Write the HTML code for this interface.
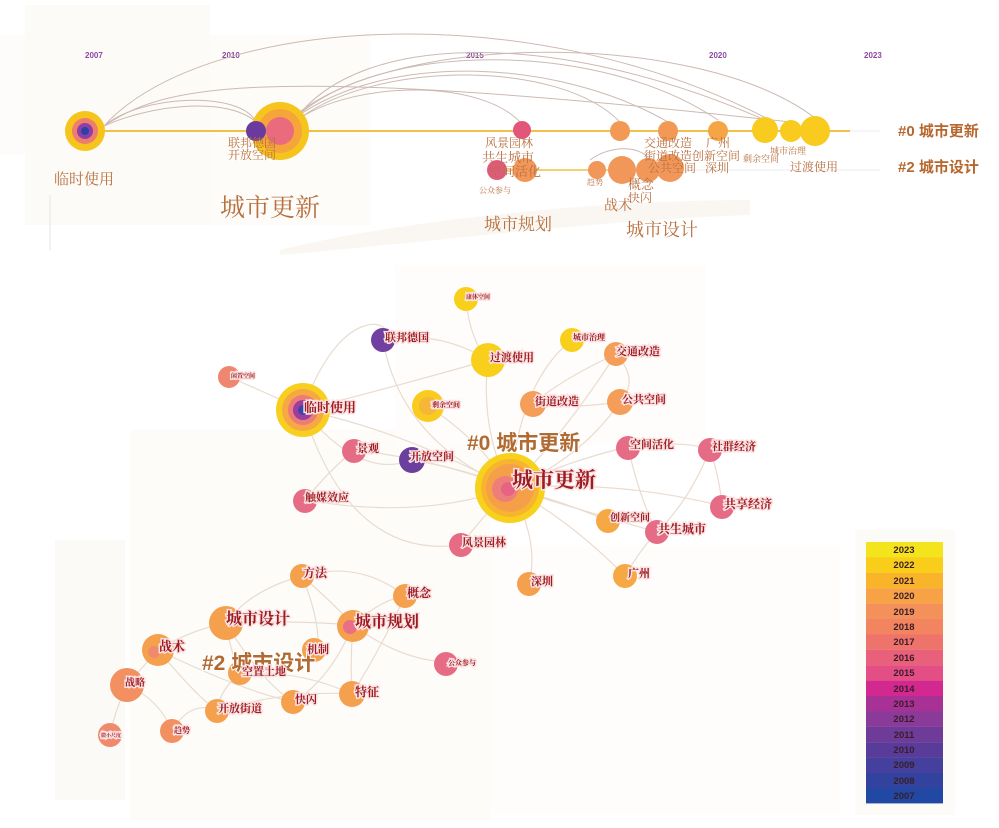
<!DOCTYPE html>
<html><head><meta charset="utf-8"><style>
html,body{margin:0;padding:0;background:#fff;}
svg{display:block;font-family:"Liberation Serif","Noto Serif CJK SC","Noto Sans CJK SC",serif;}
.l{fill:#9e1b22;stroke:#fbe3e3;stroke-width:3;paint-order:stroke;font-weight:bold;}
.t{fill:#b8703f;}
.e{fill:none;stroke:#e9dccf;stroke-width:1.2;}
.a{fill:none;stroke:#cdb9b2;stroke-width:1;}
.yr{fill:#8a4aa0;font-family:"Liberation Sans",sans-serif;font-size:8px;font-weight:bold;}
.lg{font-family:"Liberation Sans",sans-serif;font-size:9.5px;font-weight:bold;fill:#3a1d2a;}
</style></head><body>
<svg width="999" height="828" viewBox="0 0 999 828">
<!-- faint background panels -->
<rect x="25" y="5" width="185" height="220" fill="#fdfbf7"/>
<rect x="210" y="35" width="160" height="190" fill="#fdfcf9"/>
<rect x="0" y="35" width="25" height="120" fill="#fdfcfa"/>
<rect x="130" y="430" width="360" height="390" fill="#fdfcf9"/>
<rect x="55" y="540" width="70" height="260" fill="#fcfaf6"/>
<rect x="490" y="545" width="350" height="270" fill="#fefdfb"/>
<rect x="395" y="265" width="310" height="180" fill="#fefdfb"/>
<rect x="855" y="530" width="100" height="285" fill="#fcfbf7"/>
<path d="M280 250 C400 220 600 200 750 200 L750 215 C600 220 450 240 280 255Z" fill="#faf7f2"/>
<line x1="50" y1="195" x2="50" y2="250" stroke="#e6e6e6"/>

<!-- ===== TIMELINE ===== -->
<text class="yr" x="85" y="58">2007</text>
<text class="yr" x="222" y="58">2010</text>
<text class="yr" x="466" y="58">2015</text>
<text class="yr" x="709" y="58">2020</text>
<text class="yr" x="864" y="58">2023</text>
<!-- arcs -->
<path class="a" d="M104 126 C200 20 520 -10 770 120"/>
<path class="a" d="M104 126 C160 90 230 60 790 122"/>
<path class="a" d="M104 126 C140 95 240 90 256 122"/>
<path class="a" d="M104 126 C150 105 230 95 258 124"/>
<path class="a" d="M295 120 C360 30 560 30 765 120"/>
<path class="a" d="M295 118 C380 40 600 40 718 120"/>
<path class="a" d="M295 118 C390 50 560 60 668 122"/>
<path class="a" d="M300 118 C380 60 560 60 620 122"/>
<path class="a" d="M300 118 C360 80 480 80 520 122"/>
<path class="a" d="M290 120 C390 30 700 30 815 118"/>
<path class="a" d="M590 160 C610 145 640 145 650 160"/>
<line x1="85" y1="131" x2="850" y2="131" stroke="#f2c048" stroke-width="2"/>
<line x1="850" y1="131" x2="880" y2="131" stroke="#eee" stroke-width="1"/>
<line x1="496" y1="170" x2="680" y2="170" stroke="#f3d070" stroke-width="2"/>
<line x1="680" y1="170" x2="880" y2="170" stroke="#eee" stroke-width="1"/>
<!-- timeline nodes -->
<circle cx="85" cy="131" r="20" fill="#f6c51d"/><circle cx="85" cy="131" r="13" fill="#ef7d6c"/><circle cx="85" cy="131" r="8" fill="#8b3fa8"/><circle cx="85" cy="131" r="4" fill="#2f3fa5"/>
<circle cx="280" cy="131" r="29" fill="#f6c51d"/><circle cx="280" cy="131" r="22" fill="#f6a53a"/><circle cx="280" cy="131" r="14" fill="#ea6a7e"/>
<circle cx="256" cy="131" r="10" fill="#6b3a9e"/>
<circle cx="522" cy="130" r="9" fill="#e2567a"/>
<circle cx="620" cy="131" r="10" fill="#f29a55"/>
<circle cx="668" cy="131" r="10" fill="#f29a55"/>
<circle cx="718" cy="131" r="10" fill="#f5a544"/>
<circle cx="765" cy="130" r="13" fill="#f8cb1e"/>
<circle cx="791" cy="131" r="11" fill="#f8cb1e"/>
<circle cx="815" cy="131" r="15" fill="#f8cb1e"/>
<circle cx="497" cy="170" r="10" fill="#e05a7e"/>
<circle cx="525" cy="170" r="12" fill="#f2975a"/>
<circle cx="597" cy="170" r="9" fill="#f2975a"/>
<circle cx="622" cy="170" r="14" fill="#f2975a"/>
<circle cx="648" cy="170" r="12" fill="#f2975a"/>
<circle cx="670" cy="168" r="14" fill="#f2975a"/>
<!-- timeline labels -->
<g class="t" font-size="12">
<text x="228" y="147">联邦德国</text><text x="228" y="159">开放空间</text>
<text x="485" y="147">风景园林</text><text x="482" y="162" font-size="13">共生城市</text><text x="489" y="176" font-size="13">空间活化</text>
<text x="479" y="193" font-size="8">公众参与</text>
<text x="644" y="147">交通改造</text><text x="644" y="160">街道改造创新空间</text><text x="648" y="172">公共空间</text>
<text x="706" y="147">广州</text><text x="705" y="172">深圳</text>
<text x="743" y="162" font-size="9">剩余空间</text><text x="770" y="154" font-size="9">城市治理</text>
<text x="790" y="171">过渡使用</text>
<text x="587" y="185" font-size="8">趋势</text>
<text x="628" y="189" font-size="13">概念</text><text x="628" y="202" font-size="12">快闪</text>
<text x="604" y="210" font-size="14">战术</text>
</g>
<g class="t">
<text x="54" y="184" font-size="15">临时使用</text>
<text x="220" y="216" font-size="25">城市更新</text>
<text x="484" y="230" font-size="17">城市规划</text>
<text x="626" y="236" font-size="18">城市设计</text>
</g>
<g fill="#b5672e" font-family="Liberation Sans,'Noto Sans CJK SC',sans-serif" font-weight="bold" font-size="15">
<text x="898" y="136">#0 城市更新</text>
<text x="898" y="172">#2 城市设计</text>
</g>

<!-- ===== NETWORK EDGES ===== -->
<g class="e">
<path d="M303 410 C340 300 400 320 383 340"/>
<path d="M303 410 Q400 430 510 488"/>
<path d="M303 410 Q420 380 488 360"/>
<path d="M303 410 Q360 480 412 460"/>
<path d="M303 410 Q350 560 461 545"/>
<path d="M383 340 Q400 440 510 488"/>
<path d="M383 340 Q440 330 488 360"/>
<path d="M466 300 Q470 340 488 360"/>
<path d="M488 360 Q480 430 510 488"/>
<path d="M572 340 Q520 380 510 488"/>
<path d="M616 354 Q560 380 533 404"/>
<path d="M616 354 Q560 440 510 488"/>
<path d="M616 354 Q640 380 620 402"/>
<path d="M620 402 Q560 410 533 404"/>
<path d="M620 402 Q580 460 510 488"/>
<path d="M428 406 Q480 440 510 488"/>
<path d="M354 450 Q440 460 510 488"/>
<path d="M305 500 Q420 520 510 488"/>
<path d="M305 500 Q330 470 354 450"/>
<path d="M412 460 Q470 470 510 488"/>
<path d="M628 447 Q570 460 510 488"/>
<path d="M628 447 Q680 440 710 449"/>
<path d="M710 449 Q690 500 657 532"/>
<path d="M710 449 Q720 480 722 506"/>
<path d="M722 506 Q620 480 510 488"/>
<path d="M628 447 Q640 500 657 532"/>
<path d="M608 521 Q560 500 510 488"/>
<path d="M657 532 Q580 510 510 488"/>
<path d="M461 545 Q480 520 510 488"/>
<path d="M529 584 Q540 540 510 488"/>
<path d="M625 576 Q570 520 510 488"/>
<path d="M625 576 Q640 550 657 532"/>
<path d="M229 377 Q260 390 303 410"/>
<path d="M302 576 Q360 560 405 596"/>
<path d="M302 576 Q250 590 226 623"/>
<path d="M302 576 Q330 600 353 625"/>
<path d="M302 576 Q320 620 318 650"/>
<path d="M226 623 Q290 620 353 625"/>
<path d="M226 623 Q190 630 158 650"/>
<path d="M226 623 Q260 680 293 702"/>
<path d="M226 623 Q230 650 240 673"/>
<path d="M353 625 Q380 600 405 596"/>
<path d="M353 625 Q400 660 446 662"/>
<path d="M353 625 Q350 660 352 694"/>
<path d="M353 625 Q330 680 293 702"/>
<path d="M158 650 Q200 700 217 710"/>
<path d="M158 650 Q240 690 293 702"/>
<path d="M158 650 Q140 670 127 685"/>
<path d="M127 685 Q160 700 172 731"/>
<path d="M127 685 Q115 710 110 735"/>
<path d="M240 673 Q220 690 217 710"/>
<path d="M240 673 Q300 670 352 694"/>
<path d="M217 710 Q290 690 352 694"/>
<path d="M405 596 Q380 650 352 694"/>
<path d="M172 731 Q190 700 217 710"/>
</g>

<!-- ===== NETWORK NODES ===== -->
<circle cx="510" cy="488" r="35" fill="#f8d11c"/><circle cx="510" cy="488" r="29" fill="#f7b52f"/><circle cx="510" cy="488" r="24" fill="#f5a048"/><circle cx="505" cy="489" r="13" fill="#ee7e7a"/><circle cx="508" cy="489" r="7" fill="#e66383"/>
<circle cx="303" cy="410" r="27" fill="#f8cf1e"/><circle cx="303" cy="410" r="21" fill="#f5a844"/><circle cx="303" cy="410" r="15" fill="#ed7b77"/><circle cx="303" cy="410" r="10" fill="#9b3e9e"/><circle cx="303" cy="410" r="5" fill="#3b46a8"/>
<circle cx="383" cy="340" r="12" fill="#7240a0"/>
<circle cx="412" cy="460" r="13" fill="#6a3f9e"/>
<circle cx="428" cy="406" r="16" fill="#f8cb1e"/><circle cx="428" cy="406" r="9" fill="#f6b638"/>
<circle cx="488" cy="360" r="17" fill="#f8d01c"/>
<circle cx="572" cy="340" r="12" fill="#f8d01c"/>
<circle cx="466" cy="299" r="12" fill="#f8d01c"/>
<circle cx="616" cy="354" r="12" fill="#f49e5a"/>
<circle cx="229" cy="377" r="11" fill="#ef8670"/>
<circle cx="533" cy="404" r="13" fill="#f49e5a"/>
<circle cx="620" cy="402" r="13" fill="#f49e5a"/>
<circle cx="354" cy="451" r="12" fill="#e66c86"/>
<circle cx="628" cy="448" r="12" fill="#e66c86"/>
<circle cx="710" cy="450" r="12" fill="#e66c86"/>
<circle cx="305" cy="501" r="12" fill="#e66c86"/>
<circle cx="722" cy="507" r="12" fill="#e66c86"/>
<circle cx="608" cy="521" r="12" fill="#f5a844"/>
<circle cx="657" cy="532" r="12" fill="#e66c86"/>
<circle cx="461" cy="545" r="12" fill="#e66c86"/>
<circle cx="529" cy="584" r="12" fill="#f5a04c"/>
<circle cx="625" cy="576" r="12" fill="#f5a844"/>
<circle cx="302" cy="576" r="12" fill="#f5a04c"/>
<circle cx="405" cy="596" r="12" fill="#f5a04c"/>
<circle cx="226" cy="623" r="17" fill="#f5a04c"/>
<circle cx="353" cy="626" r="16" fill="#f5a04c"/><circle cx="350" cy="627" r="7" fill="#ea6f86"/>
<circle cx="158" cy="650" r="16" fill="#f5a04c"/><circle cx="154" cy="652" r="6" fill="#f08a6c"/>
<circle cx="314" cy="650" r="12" fill="#f5a04c"/>
<circle cx="240" cy="673" r="12" fill="#f5a04c"/>
<circle cx="446" cy="664" r="12" fill="#e66c86"/>
<circle cx="127" cy="685" r="17" fill="#f29062"/>
<circle cx="352" cy="694" r="13" fill="#f5a04c"/>
<circle cx="293" cy="702" r="12" fill="#f5a04c"/>
<circle cx="217" cy="711" r="12" fill="#f5a04c"/>
<circle cx="172" cy="731" r="12" fill="#f29062"/>
<circle cx="110" cy="735" r="12" fill="#f08a6c"/>

<!-- ===== NETWORK LABELS ===== -->
<g fill="#b06a32" stroke="#fff" stroke-width="2" paint-order="stroke" font-family="Liberation Sans,'Noto Sans CJK SC',sans-serif" font-weight="bold" font-size="21">
<text x="467" y="450">#0 城市更新</text>
<text x="202" y="670">#2 城市设计</text>
</g>
<g class="l">
<text x="512" y="487" font-size="21">城市更新</text>
<text x="304" y="412" font-size="13">临时使用</text>
<text x="385" y="341" font-size="11">联邦德国</text>
<text x="410" y="460" font-size="11">开放空间</text>
<text x="432" y="407" font-size="7">剩余空间</text>
<text x="490" y="361" font-size="11">过渡使用</text>
<text x="573" y="340" font-size="8">城市治理</text>
<text x="466" y="299" font-size="6">康体空间</text>
<text x="616" y="355" font-size="11">交通改造</text>
<text x="231" y="378" font-size="6">闲置空间</text>
<text x="535" y="405" font-size="11">街道改造</text>
<text x="622" y="403" font-size="11">公共空间</text>
<text x="357" y="452" font-size="11">景观</text>
<text x="630" y="448" font-size="11">空间活化</text>
<text x="712" y="450" font-size="11">社群经济</text>
<text x="305" y="501" font-size="11">触媒效应</text>
<text x="724" y="508" font-size="12">共享经济</text>
<text x="610" y="521" font-size="10">创新空间</text>
<text x="658" y="533" font-size="12">共生城市</text>
<text x="462" y="546" font-size="11">风景园林</text>
<text x="531" y="585" font-size="11">深圳</text>
<text x="628" y="577" font-size="11">广州</text>
<text x="303" y="577" font-size="12">方法</text>
<text x="407" y="597" font-size="12">概念</text>
<text x="226" y="624" font-size="16">城市设计</text>
<text x="355" y="627" font-size="16">城市规划</text>
<text x="159" y="651" font-size="13">战术</text>
<text x="307" y="653" font-size="11">机制</text>
<text x="242" y="675" font-size="11">空置土地</text>
<text x="448" y="665" font-size="7">公众参与</text>
<text x="125" y="686" font-size="10">战略</text>
<text x="355" y="696" font-size="12">特征</text>
<text x="295" y="703" font-size="11">快闪</text>
<text x="218" y="712" font-size="11">开放街道</text>
<text x="174" y="733" font-size="8">趋势</text>
<text x="101" y="737" font-size="5">微小尺度</text>
</g>

<!-- ===== LEGEND ===== -->
<g>
<rect x="866" y="542" width="77" height="15.5" fill="#f4e41c"/>
<rect x="866" y="557.4" width="77" height="15.5" fill="#f9ce1a"/>
<rect x="866" y="572.8" width="77" height="15.5" fill="#f9b42a"/>
<rect x="866" y="588.2" width="77" height="15.5" fill="#f7a245"/>
<rect x="866" y="603.6" width="77" height="15.5" fill="#f4915a"/>
<rect x="866" y="619" width="77" height="15.5" fill="#f2845f"/>
<rect x="866" y="634.4" width="77" height="15.5" fill="#ee746b"/>
<rect x="866" y="649.8" width="77" height="15.5" fill="#e8607a"/>
<rect x="866" y="665.2" width="77" height="15.5" fill="#e34e84"/>
<rect x="866" y="680.6" width="77" height="15.5" fill="#d2288f"/>
<rect x="866" y="696" width="77" height="15.5" fill="#a83196"/>
<rect x="866" y="711.4" width="77" height="15.5" fill="#8a3a98"/>
<rect x="866" y="726.8" width="77" height="15.5" fill="#6f3b99"/>
<rect x="866" y="742.2" width="77" height="15.5" fill="#593b9a"/>
<rect x="866" y="757.6" width="77" height="15.5" fill="#45409d"/>
<rect x="866" y="773" width="77" height="15.5" fill="#32439f"/>
<rect x="866" y="788.4" width="77" height="15" fill="#2148a2"/>
</g>
<g class="lg" text-anchor="middle">
<text x="904" y="553">2023</text><text x="904" y="568">2022</text><text x="904" y="584">2021</text>
<text x="904" y="599">2020</text><text x="904" y="615">2019</text><text x="904" y="630">2018</text>
<text x="904" y="645">2017</text><text x="904" y="661">2016</text><text x="904" y="676">2015</text>
<text x="904" y="692">2014</text><text x="904" y="707">2013</text><text x="904" y="722">2012</text>
<text x="904" y="738">2011</text><text x="904" y="753">2010</text><text x="904" y="768">2009</text>
<text x="904" y="784">2008</text><text x="904" y="799">2007</text>
</g>
</svg>
</body></html>
